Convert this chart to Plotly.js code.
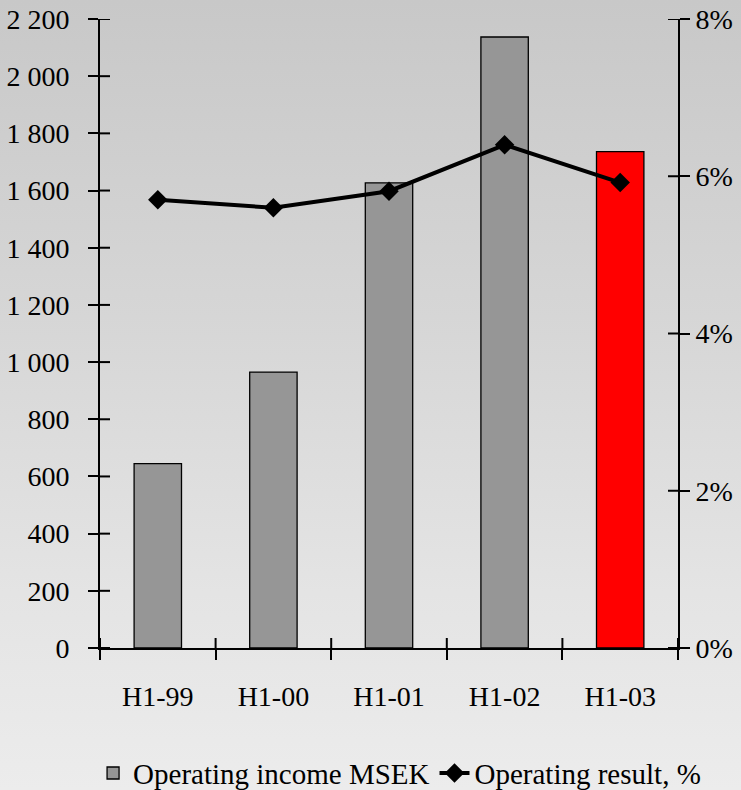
<!DOCTYPE html>
<html>
<head>
<meta charset="utf-8">
<script src="https://cdn.plot.ly/plotly-3.0.1.min.js"></script>
<style>
  html, body { margin: 0; padding: 0; }
  body { width: 741px; height: 790px; background: linear-gradient(to bottom, #c8c8c8 0%, #d6d6d6 40%, #e4e4e4 75%, #ececec 100%); }
  #chart { width: 741px; height: 790px; }
</style>
</head>
<body>
<div id="chart"></div>
<script>
const categories = ["H1-99", "H1-00", "H1-01", "H1-02", "H1-03"];
const operatingIncome = [645, 965, 1627, 2137, 1736];
const operatingResult = [5.70, 5.60, 5.81, 6.40, 5.92];
const barColors = ["#969696", "#969696", "#969696", "#969696", "#ff0000"];
const leftTicks = [0, 200, 400, 600, 800, 1000, 1200, 1400, 1600, 1800, 2000, 2200];
const leftTickText = ["0", "200", "400", "600", "800", "1 000", "1 200", "1 400", "1 600", "1 800", "2 000", "2 200"];
const rightTicks = [0, 2, 4, 6, 8];
const rightTickText = ["0%", "2%", "4%", "6%", "8%"];

const FAMILY = "Liberation Serif";
function mkFont(size) { return { family: FAMILY, size: size, color: "#000000" }; }

function build() {
  const traces = [
    {
      type: "bar",
      name: "Operating income MSEK",
      x: categories,
      y: operatingIncome,
      width: 0.41,
      marker: { color: barColors, line: { color: "#000000", width: 1.3 } },
      xaxis: "x", yaxis: "y"
    },
    {
      type: "scatter",
      mode: "lines+markers",
      name: "Operating result, %",
      x: categories,
      y: operatingResult,
      line: { color: "#000000", width: 4 },
      marker: { symbol: "diamond", size: 15, color: "#000000" },
      xaxis: "x", yaxis: "y2"
    }
  ];

  // inner halves of the crossing tick marks, derived from the tick arrays
  const tickStyle = { color: "#000000", width: 2 };
  const shapes = [];
  leftTicks.forEach(function (v) {
    shapes.push({ type: "line", xref: "paper", yref: "y", x0: 0, x1: 0.0173, y0: v, y1: v, line: tickStyle });
  });
  rightTicks.forEach(function (v) {
    shapes.push({ type: "line", xref: "paper", yref: "y2", x0: 1 - 0.0173, x1: 1, y0: v, y1: v, line: tickStyle });
  });
  for (let i = 0; i <= categories.length; i++) {
    shapes.push({ type: "line", xref: "x", yref: "paper", x0: i - 0.5, x1: i - 0.5, y0: 0, y1: 0.0159, line: tickStyle });
  }

  const layout = {
    width: 741, height: 790,
    margin: { l: 100, r: 63, t: 19, b: 142, autoexpand: false },
    paper_bgcolor: "rgba(0,0,0,0)",
    plot_bgcolor: "rgba(0,0,0,0)",
    font: mkFont(28),
    showlegend: true,
    legend: {
      orientation: "h",
      x: -0.012, xanchor: "left", y: -0.199, yanchor: "middle",
      font: mkFont(29),
      bgcolor: "rgba(0,0,0,0)"
    },
    shapes: shapes,
    xaxis: {
      type: "category",
      range: [-0.5, 4.5],
      showline: true, linecolor: "#000000", linewidth: 2,
      ticks: "outside", ticklen: 10, tickwidth: 2, tickcolor: "#000000",
      tickson: "boundaries", showgrid: false, zeroline: false,
      ticklabelstandoff: 22,
      tickfont: mkFont(28)
    },
    yaxis: {
      range: [0, 2200], tickmode: "array", tickvals: leftTicks, ticktext: leftTickText,
      showline: true, linecolor: "#000000", linewidth: 2,
      ticks: "outside", ticklen: 10, tickwidth: 2, tickcolor: "#000000",
      showgrid: false, zeroline: false,
      ticklabelstandoff: 13,
      tickfont: mkFont(28)
    },
    yaxis2: {
      overlaying: "y", side: "right", range: [0, 8], tickmode: "array", tickvals: rightTicks, ticktext: rightTickText,
      showline: true, linecolor: "#000000", linewidth: 2,
      ticks: "outside", ticklen: 10, tickwidth: 2, tickcolor: "#000000",
      showgrid: false, zeroline: false,
      tickfont: mkFont(28)
    }
  };
  return { traces: traces, layout: layout };
}

function draw() {
  const c = build();
  Plotly.newPlot("chart", c.traces, c.layout, { displayModeBar: false });
}
draw();
if (document.fonts && document.fonts.load) {
  document.fonts.load("28px '" + FAMILY + "'").then(draw, function () {});
}
</script>
</body>
</html>
